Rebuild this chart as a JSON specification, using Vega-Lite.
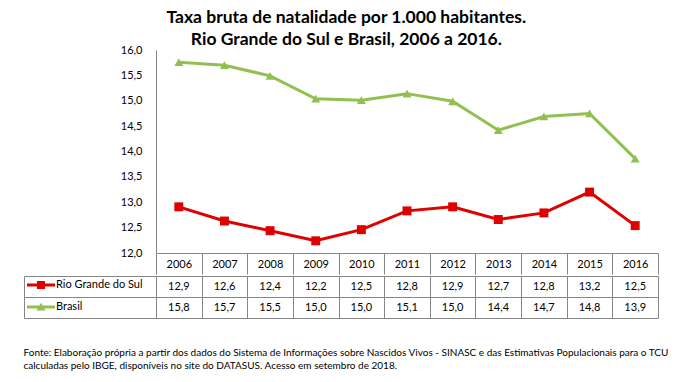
{
  "$schema": "https://vega.github.io/schema/vega-lite/v6.json",
  "padding": {"left": 23, "top": 8, "right": 23, "bottom": 10},
  "background": "white",
  "config": {
    "view": {"stroke": null},
    "font": "Lato",
    "locale": {"number": {"decimal": ",", "thousands": ".", "grouping": [3], "currency": ["R$", ""]}}
  },
  "title": {
    "text": ["Taxa bruta de natalidade por 1.000 habitantes.", "Rio Grande do Sul e Brasil, 2006 a 2016."],
    "fontSize": 17.5, "font": "Lato", "fontWeight": "bold", "color": "black",
    "lineHeight": 22, "anchor": "middle", "offset": -4
  },
  "data": {"values": [
    {"ano": "2006", "serie": "Rio Grande do Sul", "valor": 12.91},
    {"ano": "2007", "serie": "Rio Grande do Sul", "valor": 12.63},
    {"ano": "2008", "serie": "Rio Grande do Sul", "valor": 12.44},
    {"ano": "2009", "serie": "Rio Grande do Sul", "valor": 12.24},
    {"ano": "2010", "serie": "Rio Grande do Sul", "valor": 12.46},
    {"ano": "2011", "serie": "Rio Grande do Sul", "valor": 12.83},
    {"ano": "2012", "serie": "Rio Grande do Sul", "valor": 12.91},
    {"ano": "2013", "serie": "Rio Grande do Sul", "valor": 12.66},
    {"ano": "2014", "serie": "Rio Grande do Sul", "valor": 12.79},
    {"ano": "2015", "serie": "Rio Grande do Sul", "valor": 13.2},
    {"ano": "2016", "serie": "Rio Grande do Sul", "valor": 12.54},
    {"ano": "2006", "serie": "Brasil", "valor": 15.76},
    {"ano": "2007", "serie": "Brasil", "valor": 15.7},
    {"ano": "2008", "serie": "Brasil", "valor": 15.49},
    {"ano": "2009", "serie": "Brasil", "valor": 15.04},
    {"ano": "2010", "serie": "Brasil", "valor": 15.01},
    {"ano": "2011", "serie": "Brasil", "valor": 15.14},
    {"ano": "2012", "serie": "Brasil", "valor": 14.99},
    {"ano": "2013", "serie": "Brasil", "valor": 14.42},
    {"ano": "2014", "serie": "Brasil", "valor": 14.69},
    {"ano": "2015", "serie": "Brasil", "valor": 14.75},
    {"ano": "2016", "serie": "Brasil", "valor": 13.86}
  ]},
  "spacing": 0,
  "vconcat": [
    {
      "width": 502,
      "height": 203,
      "encoding": {
        "x": {
          "field": "ano", "type": "ordinal",
          "scale": {"type": "band", "paddingInner": 0, "paddingOuter": 0},
          "axis": {
            "orient": "bottom", "title": null, "domainColor": "#868686", "tickColor": "#868686",
            "tickBand": "extent", "tickSize": 21, "labelPadding": -10, "labelBaseline": "middle",
            "labelAngle": 0, "labelFontSize": 11, "labelFont": "Lato", "labelColor": "black", "grid": false
          }
        },
        "y": {
          "field": "valor", "type": "quantitative",
          "scale": {"domain": [12, 16], "zero": false, "nice": false},
          "axis": {
            "values": [12, 12.5, 13, 13.5, 14, 14.5, 15, 15.5, 16], "format": ".1f",
            "ticks": false, "labelPadding": 14, "domainColor": "#868686",
            "labelFontSize": 11, "labelFont": "Lato", "labelColor": "black", "grid": false, "title": null
          }
        },
        "color": {
          "field": "serie", "type": "nominal",
          "scale": {"domain": ["Rio Grande do Sul", "Brasil"], "range": ["#e00000", "#92c050"]},
          "legend": {
            "orient": "none", "legendX": -122, "legendY": 228, "title": null,
            "symbolSize": 196, "symbolStrokeWidth": 0, "labelFontSize": 11, "labelFont": "Lato",
            "labelColor": "black", "labelOffset": 8, "rowPadding": 10, "padding": 0,
            "encode": {"symbols": {"update": {
              "shape": {"signal": "datum.value === 'Brasil' ? 'M-2,-0.2H2V0.2H-2Z M0,-0.6L0.65,0.5H-0.65Z' : 'M-2,-0.2H2V0.2H-2Z M-0.57,-0.57H0.57V0.57H-0.57Z'"},
              "fill": {"signal": "scale('color', datum.value)"},
              "stroke": {"value": "transparent"},
              "opacity": {"value": 1}
            }}}
          }
        }
      },
      "layer": [
        {"mark": {"type": "line", "strokeWidth": 3}},
        {
          "transform": [{"filter": "datum.serie === 'Rio Grande do Sul'"}],
          "mark": {"type": "point", "filled": true, "opacity": 1, "size": 80, "shape": "square"}
        },
        {
          "transform": [{"filter": "datum.serie === 'Brasil'"}],
          "mark": {"type": "point", "filled": true, "opacity": 1, "size": 80, "shape": "triangle-up"}
        }
      ]
    },
    {
      "width": 502,
      "height": 42,
      "title": {
        "text": [
          "Fonte: Elaboração própria a partir dos dados do Sistema de Informações sobre Nascidos Vivos - SINASC e das Estimativas Populacionais para o TCU",
          "calculadas pelo IBGE, disponíveis no site do DATASUS. Acesso em setembro de 2018."
        ],
        "orient": "bottom", "anchor": "start", "frame": "bounds", "fontSize": 10,
        "fontWeight": "normal", "font": "Lato", "color": "black", "offset": 29, "lineHeight": 13
      },
      "mark": {"type": "text", "fontSize": 11, "font": "Lato", "color": "black", "baseline": "middle"},
      "encoding": {
        "x": {
          "field": "ano", "type": "ordinal",
          "scale": {"type": "band", "paddingInner": 0, "paddingOuter": 0},
          "axis": {
            "orient": "top", "labels": false, "ticks": false, "domain": false, "grid": true,
            "tickBand": "extent", "gridColor": "#868686", "gridOpacity": 1, "title": null
          }
        },
        "y": {
          "field": "serie", "type": "nominal",
          "scale": {"type": "band", "domain": ["Rio Grande do Sul", "Brasil"], "paddingInner": 0, "paddingOuter": 0},
          "axis": {
            "orient": "left", "offset": 132, "labels": false, "domain": true, "domainColor": "#868686",
            "ticks": true, "tickBand": "extent", "tickSize": -634, "tickColor": "#868686",
            "grid": false, "title": null
          }
        },
        "text": {"field": "valor", "type": "quantitative", "format": ".1f"}
      }
    }
  ]
}
